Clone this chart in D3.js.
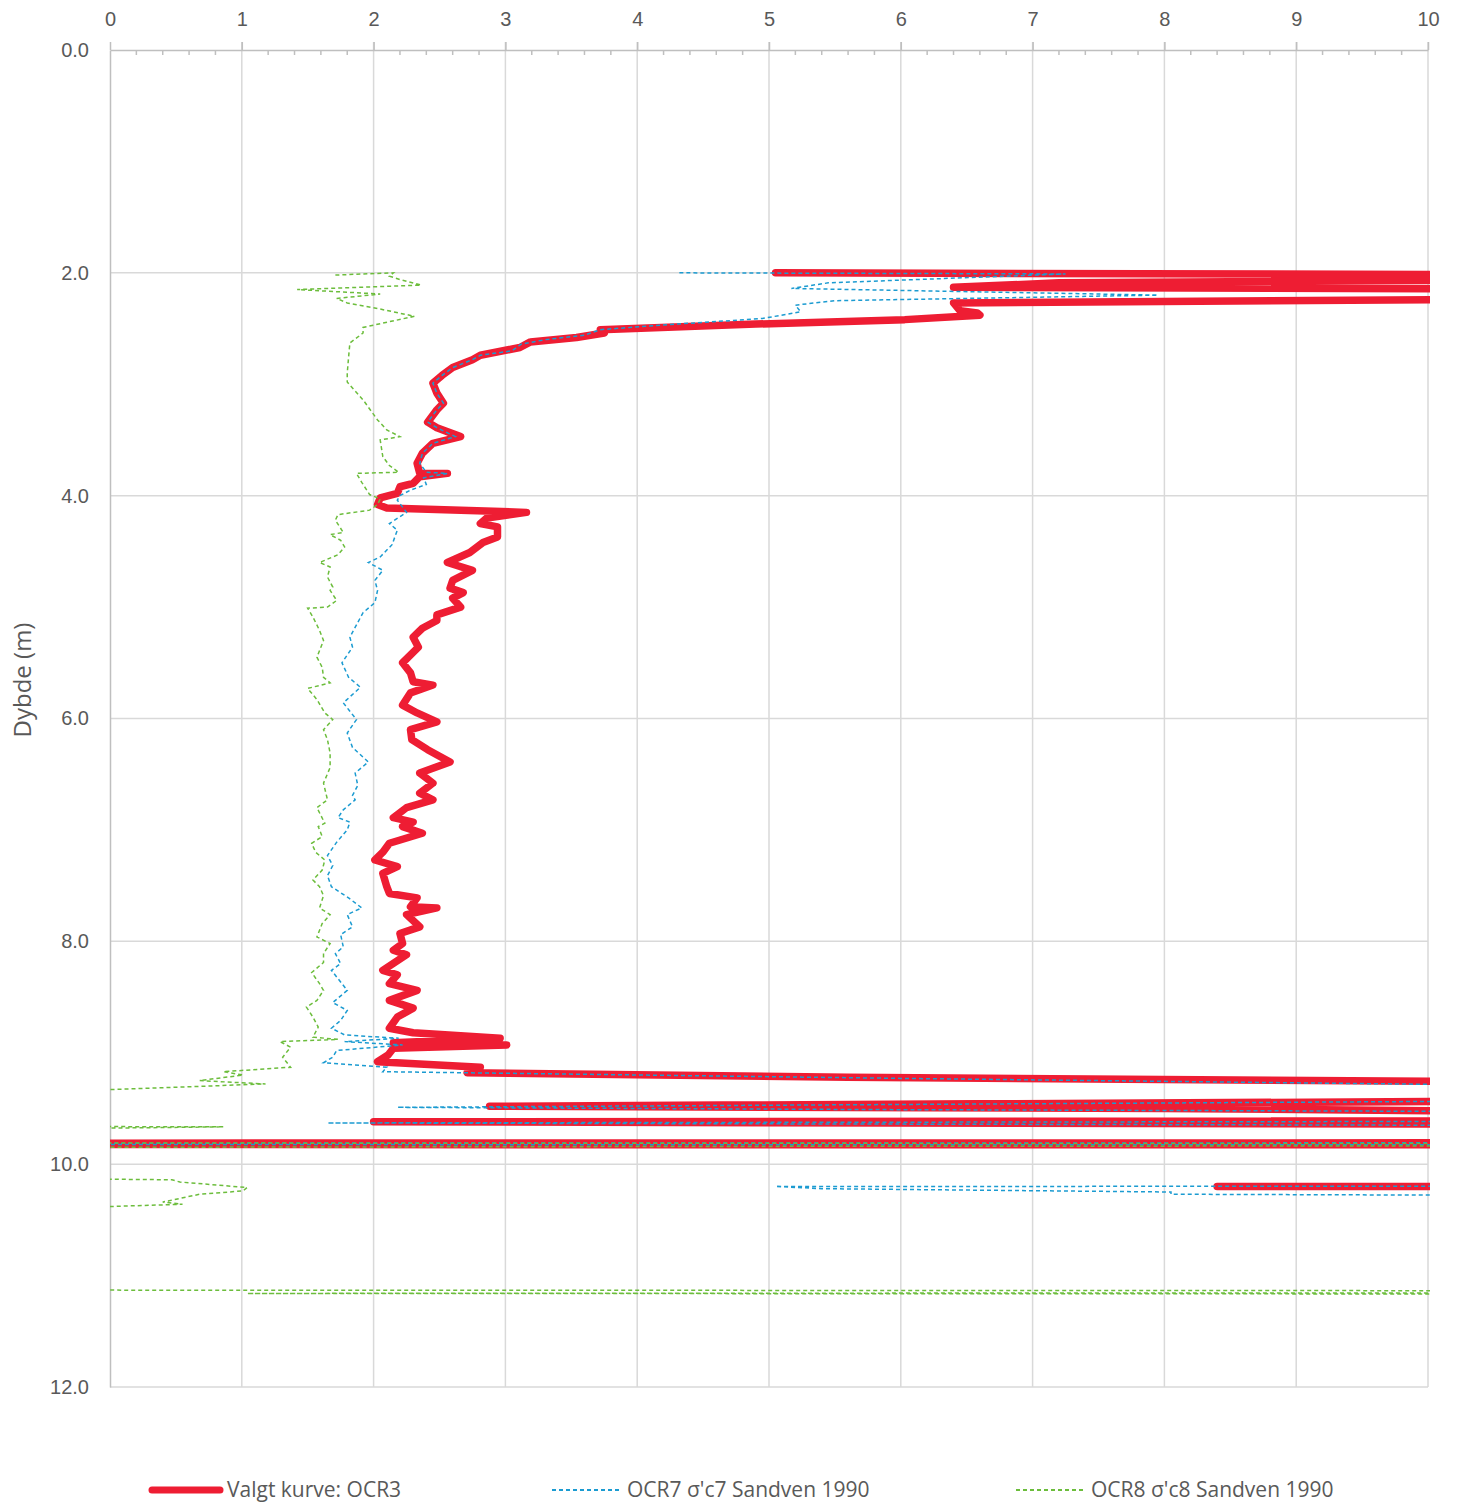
<!DOCTYPE html>
<html>
<head>
<meta charset="utf-8">
<script src="https://cdn.jsdelivr.net/npm/d3@7"></script>
<style>
  body { margin: 0; background: #fff; }
  svg { font-family: "Open Sans", "Noto Sans", sans-serif; }
</style>
</head>
<body>
<svg id="chart" width="1459" height="1506"></svg>
<script>
// [depth (m), OCR]
const ocr3 = [[2.00,5.05],[2.03,15],[2.09,7.2],[2.13,6.4],[2.16,15],[2.20,15],[2.27,6.4],[2.34,6.45],[2.36,6.58],[2.38,6.6],[2.42,6.03],[2.46,4.9],[2.51,3.72],[2.54,3.75],[2.58,3.54],[2.62,3.19],[2.67,3.11],[2.74,2.81],[2.78,2.75],[2.85,2.60],[2.92,2.52],[2.99,2.45],[3.08,2.48],[3.17,2.53],[3.23,2.48],[3.34,2.41],[3.39,2.48],[3.47,2.66],[3.53,2.45],[3.62,2.37],[3.71,2.33],[3.80,2.35],[3.80,2.56],[3.83,2.35],[3.89,2.30],[3.92,2.20],[3.98,2.18],[4.02,2.05],[4.08,2.03],[4.11,2.10],[4.15,3.16],[4.20,2.86],[4.25,2.81],[4.28,2.94],[4.37,2.94],[4.42,2.83],[4.51,2.73],[4.60,2.56],[4.67,2.75],[4.76,2.60],[4.83,2.58],[4.87,2.68],[4.92,2.60],[5.00,2.66],[5.07,2.48],[5.12,2.48],[5.19,2.37],[5.27,2.30],[5.36,2.34],[5.50,2.22],[5.59,2.28],[5.67,2.30],[5.70,2.45],[5.77,2.28],[5.88,2.22],[5.95,2.33],[6.03,2.48],[6.10,2.28],[6.19,2.29],[6.28,2.41],[6.39,2.58],[6.49,2.35],[6.58,2.45],[6.67,2.35],[6.73,2.45],[6.80,2.25],[6.89,2.15],[6.93,2.30],[6.97,2.22],[7.03,2.37],[7.12,2.12],[7.20,2.07],[7.27,2.01],[7.33,2.18],[7.39,2.07],[7.51,2.10],[7.57,2.12],[7.61,2.33],[7.69,2.28],[7.70,2.48],[7.76,2.25],[7.87,2.35],[7.93,2.20],[8.02,2.22],[8.08,2.15],[8.12,2.25],[8.26,2.07],[8.30,2.18],[8.38,2.12],[8.44,2.33],[8.53,2.12],[8.60,2.30],[8.68,2.18],[8.78,2.12],[8.82,2.30],[8.87,2.96],[8.91,2.15],[8.93,3.01],[8.96,2.15],[9.02,2.11],[9.08,2.03],[9.13,2.81],[9.18,2.71],[9.22,5.6],[9.26,10.5],[9.30,40],[9.38,20],[9.48,2.88],[9.50,8.0],[9.56,14],[9.58,40],[9.62,2.0],[9.65,14],[9.66,40],[9.80,40],[9.82,-30],[9.83,40],[10.19,40],[10.20,8.4],[10.215,40]];

const ocr7 = [[2.00,4.32],[2.01,7.25],[2.09,5.45],[2.14,5.17],[2.20,7.95],[2.25,5.5],[2.29,5.2],[2.35,5.24],[2.41,4.95],[2.46,4.3],[2.51,3.72],[2.56,3.6],[2.60,3.3],[2.64,3.12],[2.70,3.05],[2.74,2.81],[2.78,2.75],[2.85,2.60],[2.92,2.52],[2.99,2.45],[3.08,2.48],[3.17,2.53],[3.23,2.48],[3.34,2.41],[3.39,2.48],[3.47,2.62],[3.53,2.45],[3.62,2.37],[3.71,2.35],[3.79,2.40],[3.80,2.56],[3.84,2.38],[3.90,2.40],[3.95,2.28],[4.00,2.20],[4.04,2.18],[4.15,2.25],[4.25,2.12],[4.31,2.18],[4.44,2.14],[4.55,2.05],[4.60,1.96],[4.67,2.07],[4.76,2.01],[4.85,2.03],[4.96,2.01],[5.05,1.92],[5.16,1.87],[5.27,1.82],[5.36,1.84],[5.50,1.76],[5.63,1.81],[5.72,1.90],[5.86,1.77],[6.01,1.87],[6.13,1.80],[6.26,1.84],[6.39,1.96],[6.49,1.86],[6.60,1.88],[6.69,1.84],[6.73,1.86],[6.82,1.77],[6.89,1.73],[6.93,1.82],[7.00,1.80],[7.11,1.72],[7.23,1.65],[7.32,1.69],[7.41,1.65],[7.51,1.68],[7.61,1.81],[7.70,1.91],[7.76,1.80],[7.87,1.84],[7.94,1.75],[8.05,1.77],[8.11,1.71],[8.20,1.75],[8.26,1.68],[8.44,1.80],[8.55,1.69],[8.62,1.80],[8.71,1.75],[8.78,1.68],[8.84,1.78],[8.87,2.19],[8.90,1.78],[8.93,2.22],[8.98,1.72],[9.04,1.69],[9.09,1.62],[9.13,2.10],[9.17,2.07],[9.23,6.0],[9.29,10.5],[9.32,40],[9.37,20],[9.49,2.18],[9.51,5.8],[9.54,14],[9.57,40],[9.63,1.65],[9.66,14],[9.67,40],[9.80,40],[9.82,-30],[9.83,40],[10.19,40],[10.20,5.05],[10.22,5.4],[10.25,8.05],[10.27,8.05],[10.285,12],[10.4,40]];

const ocr8 = [[2.02,1.71],[2.00,2.15],[2.03,2.12],[2.06,2.2],[2.11,2.36],[2.15,1.42],[2.19,2.05],[2.23,1.72],[2.27,1.8],[2.32,2.03],[2.39,2.31],[2.49,1.92],[2.54,1.92],[2.63,1.82],[2.76,1.81],[2.90,1.80],[2.98,1.80],[3.14,1.92],[3.32,2.03],[3.41,2.10],[3.47,2.20],[3.50,2.05],[3.65,2.07],[3.73,2.12],[3.79,2.19],[3.80,1.87],[3.88,1.91],[3.99,1.97],[4.03,2.05],[4.08,2.03],[4.13,1.97],[4.17,1.73],[4.22,1.71],[4.33,1.77],[4.35,1.67],[4.40,1.75],[4.46,1.78],[4.53,1.73],[4.60,1.59],[4.64,1.67],[4.73,1.65],[4.82,1.69],[4.85,1.67],[4.94,1.72],[5.00,1.65],[5.01,1.50],[5.09,1.54],[5.21,1.59],[5.30,1.62],[5.45,1.57],[5.54,1.61],[5.63,1.62],[5.68,1.67],[5.73,1.50],[5.83,1.57],[5.95,1.63],[6.01,1.69],[6.10,1.62],[6.19,1.65],[6.31,1.67],[6.44,1.67],[6.58,1.62],[6.73,1.65],[6.80,1.57],[6.94,1.63],[6.97,1.58],[7.06,1.61],[7.12,1.53],[7.20,1.56],[7.27,1.63],[7.36,1.61],[7.45,1.54],[7.51,1.59],[7.59,1.62],[7.70,1.59],[7.76,1.67],[7.84,1.61],[7.96,1.57],[8.02,1.67],[8.11,1.62],[8.19,1.62],[8.28,1.53],[8.38,1.59],[8.44,1.62],[8.53,1.57],[8.59,1.49],[8.68,1.54],[8.77,1.58],[8.86,1.54],[8.88,1.73],[8.90,1.29],[8.95,1.37],[9.04,1.31],[9.13,1.37],[9.17,0.86],[9.20,1.01],[9.25,0.68],[9.28,1.18],[9.33,0.02],[9.34,-1],[9.66,-1],[9.665,0.86],[9.69,-1],[9.81,-1],[9.82,20],[9.83,20],[9.84,5.28],[9.85,-1],[10.13,-0.5],[10.14,0.47],[10.16,0.53],[10.21,1.04],[10.24,1.01],[10.27,0.68],[10.34,0.40],[10.36,0.55],[10.38,0],[10.39,-1],[11.13,-1],[11.14,20],[11.15,20],[11.16,1.04],[11.17,20]];

const seriesNames = ['Valgt kurve: OCR3', "OCR7 σ'c7 Sandven 1990", "OCR8 σ'c8 Sandven 1990"];
const xTicks = [0,1,2,3,4,5,6,7,8,9,10];
const yTicks = [0,2,4,6,8,10,12];

const margin = { top: 50, right: 31, bottom: 119, left: 110 };
const width = 1459, height = 1506;
const svg = d3.select('#chart');

const x = d3.scaleLinear().domain([0, 10]).range([margin.left, width - margin.right]);
const y = d3.scaleLinear().domain([0, 12]).range([margin.top, height - margin.bottom]);

svg.append('defs').append('clipPath').attr('id', 'plot')
  .append('rect')
  .attr('x', x(0)).attr('y', y(0))
  .attr('width', x(10) - x(0) + 2).attr('height', y(12) - y(0));

// grid
svg.append('g')
  .selectAll('line')
  .data(xTicks.slice(1))
  .enter().append('line')
  .attr('x1', d => x(d)).attr('x2', d => x(d))
  .attr('y1', y(0) - 8).attr('y2', y(12))
  .attr('stroke', '#d9d9d9').attr('stroke-width', 1.5);

svg.append('g')
  .selectAll('line')
  .data(yTicks.slice(1))
  .enter().append('line')
  .attr('x1', x(0)).attr('x2', x(10))
  .attr('y1', d => y(d)).attr('y2', d => y(d))
  .attr('stroke', '#d9d9d9').attr('stroke-width', 1.5);

// top axis
const xAxis = d3.axisTop(x).tickValues(xTicks).tickSize(8).tickSizeOuter(0).tickPadding(16).tickFormat(d3.format('d'));
const gx = svg.append('g').attr('transform', 'translate(0,' + y(0) + ')').call(xAxis);
gx.select('.domain').attr('stroke', '#bfbfbf').attr('stroke-width', 1.5);
gx.selectAll('.tick line').attr('stroke', '#bfbfbf').attr('stroke-width', 1.5);
gx.selectAll('.tick text').attr('fill', '#595959').attr('font-size', 20);

const minor = d3.range(0, 50).map(i => i * 0.2).filter(v => Math.abs(v - Math.round(v)) > 0.01);
svg.append('g')
  .selectAll('line')
  .data(minor)
  .enter().append('line')
  .attr('x1', d => x(d)).attr('x2', d => x(d))
  .attr('y1', y(0)).attr('y2', y(0) + 5)
  .attr('stroke', '#bfbfbf').attr('stroke-width', 1.5);

// left axis
const yAxis = d3.axisLeft(y).tickValues(yTicks).tickSize(0).tickPadding(21).tickFormat(d3.format('.1f'));
const gy = svg.append('g').attr('transform', 'translate(' + x(0) + ',0)').call(yAxis);
gy.select('.domain').attr('stroke', '#bfbfbf').attr('stroke-width', 1.5);
gy.selectAll('.tick text').attr('fill', '#595959').attr('font-size', 20);

svg.append('text')
  .attr('transform', 'translate(31,680) rotate(-90)')
  .attr('text-anchor', 'middle')
  .attr('fill', '#595959')
  .attr('font-size', 24)
  .text('Dybde (m)');

// series
const line = d3.line().x(d => x(d[1])).y(d => y(d[0]));
const plot = svg.append('g').attr('clip-path', 'url(#plot)');

plot.append('path').datum(ocr3)
  .attr('d', line).attr('fill', 'none')
  .attr('stroke', '#ee1d33').attr('stroke-width', 7.5)
  .attr('stroke-linejoin', 'round').attr('stroke-linecap', 'round');

plot.append('path').datum(ocr7)
  .attr('d', line).attr('fill', 'none')
  .attr('stroke', '#1b9bd1').attr('stroke-width', 1.5)
  .attr('stroke-dasharray', '4,3');

plot.append('path').datum(ocr8)
  .attr('d', line).attr('fill', 'none')
  .attr('stroke', '#6cbd3c').attr('stroke-width', 1.5)
  .attr('stroke-dasharray', '4,3');

// legend
const legendItems = [
  { name: seriesNames[0], x: 152, color: '#ee1d33', w: 7, dash: null },
  { name: seriesNames[1], x: 552, color: '#1b9bd1', w: 1.8, dash: '4,3' },
  { name: seriesNames[2], x: 1016, color: '#6cbd3c', w: 1.8, dash: '4,3' }
];
const lg = svg.append('g').attr('transform', 'translate(0,1490)');
const li = lg.selectAll('g').data(legendItems).enter().append('g')
  .attr('transform', d => 'translate(' + d.x + ',0)');
li.append('line')
  .attr('x1', 0).attr('x2', 68).attr('y1', 0).attr('y2', 0)
  .attr('stroke', d => d.color).attr('stroke-width', d => d.w)
  .attr('stroke-dasharray', d => d.dash)
  .attr('stroke-linecap', d => d.dash ? 'butt' : 'round');
li.append('text')
  .attr('x', 75).attr('y', 7)
  .attr('fill', '#595959').attr('font-size', 21)
  .text(d => d.name);
</script>
</body>
</html>
